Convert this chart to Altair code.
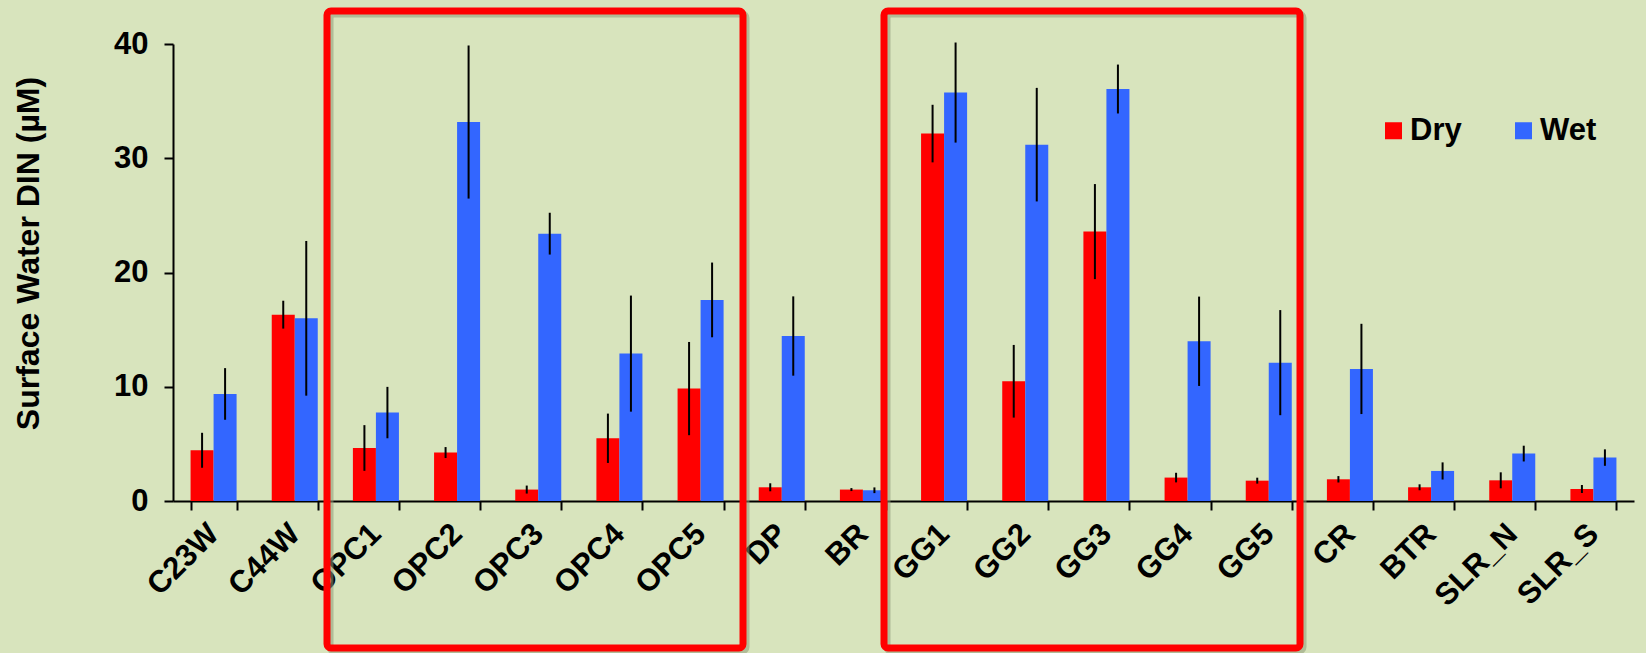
import altair as alt
import pandas as pd

# Sampling sites along the x axis
sites = ["C23W", "C44W", "OPC1", "OPC2", "OPC3", "OPC4", "OPC5", "DP", "BR",
         "GG1", "GG2", "GG3", "GG4", "GG5", "CR", "BTR", "SLR_N", "SLR_S"]

# Mean surface-water DIN (uM) and error half-widths, dry season
dry = [4.44, 16.31, 4.64, 4.24, 1.00, 5.49, 9.84, 1.20, 1.00,
       32.16, 10.48, 23.58, 2.05, 1.78, 1.90, 1.20, 1.81, 1.05]
dry_err = [1.53, 1.22, 2.00, 0.48, 0.35, 2.16, 4.08, 0.35, 0.13,
           2.52, 3.18, 4.16, 0.42, 0.26, 0.28, 0.26, 0.70, 0.35]

# Mean surface-water DIN (uM) and error half-widths, wet season
wet = [9.37, 15.99, 7.74, 33.17, 23.40, 12.90, 17.60, 14.44, 0.94,
       35.75, 31.19, 36.06, 13.98, 12.11, 11.56, 2.63, 4.15, 3.80]
wet_err = [2.26, 6.77, 2.25, 6.70, 1.83, 5.08, 3.27, 3.47, 0.25,
           4.38, 4.97, 2.14, 3.91, 4.60, 3.95, 0.75, 0.69, 0.72]

seasons = ["Dry", "Wet"]
season_colors = ["#FF0000", "#3366FF"]
y_ticks = [0, 10, 20, 30, 40]

rows = []
for season, vals, errs in (("Dry", dry, dry_err), ("Wet", wet, wet_err)):
    for site, v, e in zip(sites, vals, errs):
        rows.append({"site": site, "season": season, "din": v,
                     "lo": v - e, "hi": v + e})
df = pd.DataFrame(rows)

FONT = "Liberation Sans"
W, H = 1461, 457

x_enc = alt.X(
    "site:N", sort=sites, title=None,
    scale=alt.Scale(paddingInner=0.433, paddingOuter=0.2165),
    axis=alt.Axis(
        labelAngle=-45, labelAlign="right", labelBaseline="middle",
        labelFont=FONT, labelFontSize=31, labelFontWeight="bold",
        labelColor="black", labelPadding=19, tickBand="extent",
        tickSize=9, tickWidth=2, tickColor="black",
        domainColor="black", domainWidth=2, labelOverlap=False,
    ),
)
xoff = alt.XOffset("season:N", sort=seasons, scale=alt.Scale(paddingInner=0, paddingOuter=0))

y_scale = alt.Scale(domain=[0, 40], nice=False)

bars = alt.Chart(df).mark_bar().encode(
    x=x_enc,
    xOffset=xoff,
    y=alt.Y(
        "din:Q", stack=None, scale=y_scale, title="Surface Water DIN (µM)",
        axis=alt.Axis(
            values=y_ticks, grid=False, labelFont=FONT, labelFontSize=31,
            labelFontWeight="bold", labelColor="black", labelPadding=16,
            tickSize=9, tickWidth=2, tickColor="black",
            domainColor="black", domainWidth=2,
            titleFont=FONT, titleFontSize=32, titleFontWeight="bold",
            titleColor="black", titleAngle=270, titleX=-145, titleY=209,
            titleAlign="center", titleBaseline="middle",
        ),
    ),
    color=alt.Color(
        "season:N", sort=seasons,
        scale=alt.Scale(domain=seasons, range=season_colors),
        legend=alt.Legend(
            title=None, orient="none", legendX=1205, legendY=71,
            direction="horizontal", columns=2, columnPadding=46,
            symbolType="square", symbolSize=289, symbolStrokeWidth=0,
            symbolOpacity=1, labelFont=FONT, labelFontSize=31,
            labelFontWeight="bold", labelColor="black", labelOffset=1,
            padding=0,
        ),
    ),
)

errbars = alt.Chart(df).mark_rule(color="black", strokeWidth=2).encode(
    x=alt.X("site:N", sort=sites),
    xOffset=alt.XOffset("season:N", sort=seasons),
    y=alt.Y("lo:Q", scale=y_scale),
    y2="hi:Q",
)


def highlight(x0, x1, y0, y1):
    """Rounded red frame with a soft drop shadow around a group of sites."""
    one = alt.Data(values=[{"k": 1}])
    shadow = alt.Chart(one).mark_rect(
        fillOpacity=0, stroke="#8f9a78", strokeOpacity=0.55,
        strokeWidth=7, cornerRadius=4,
    ).encode(
        x=alt.value(x0 + 3), x2=alt.value(x1 + 3),
        y=alt.value(y0 + 3), y2=alt.value(y1 + 3),
    )
    frame = alt.Chart(one).mark_rect(
        fillOpacity=0, stroke="#FF0000", strokeWidth=7, cornerRadius=4,
    ).encode(
        x=alt.value(x0), x2=alt.value(x1),
        y=alt.value(y0), y2=alt.value(y1),
    )
    return shadow + frame


chart = alt.layer(
    bars, errbars,
    highlight(154, 570, -33, 604),
    highlight(711, 1127, -33, 604),
).properties(
    width=W, height=H,
    autosize=alt.AutoSizeParams(type="none"),
    padding={"left": 173, "top": 44, "right": 12, "bottom": 152},
    background="#D8E4BD",
).configure_view(
    stroke=None,
)

chart.save("out.html", embed_options={"renderer": "svg", "actions": False})
